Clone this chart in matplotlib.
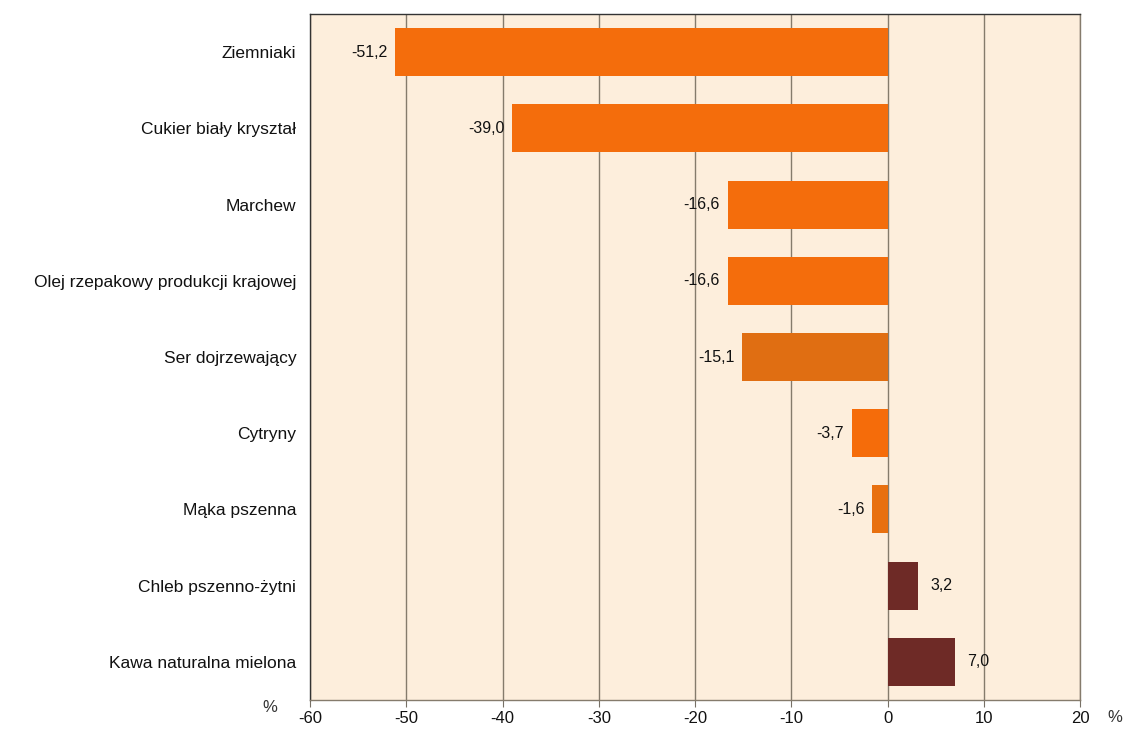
import matplotlib.pyplot as plt

categories = ["Ziemniaki", "Cukier biały kryształ", "Marchew",
              "Olej rzepakowy produkcji krajowej", "Ser dojrzewający",
              "Cytryny", "Mąka pszenna", "Chleb pszenno-żytni",
              "Kawa naturalna mielona"]
values = [-51.2, -39.0, -16.6, -16.6, -15.1, -3.7, -1.6, 3.2, 7.0]
colors = ["#F46D0C", "#F46D0C", "#F46D0C", "#F46D0C", "#E06E12",
          "#F56C0A", "#E8700F", "#6E2A26", "#6E2A26"]

plt.rcParams['font.family'] = ['Liberation Sans', 'DejaVu Sans']
plt.rcParams['axes.unicode_minus'] = False

fig = plt.figure(figsize=(11.27, 7.31), dpi=100)
ax = fig.add_axes([0.2751, 0.0424, 0.6832, 0.9384])
ax.set_facecolor("#FDEEDC")

y = list(range(len(categories)))
ax.barh(y, values, height=0.63, color=colors, zorder=3)

for yi, v in zip(y, values):
    txt = f"{v:.1f}".replace(".", ",")
    if v < 0:
        ax.text(v - 0.8, yi, txt, ha="right", va="center", fontsize=11.5, color="#111111", zorder=4)
    else:
        ax.text(v + 1.3, yi, txt, ha="left", va="center", fontsize=11.5, color="#111111", zorder=4)

ax.set_xlim(-60, 20)
ax.set_ylim(len(categories) - 0.5, -0.5)
ax.set_xticks(range(-60, 21, 10))
ax.set_yticks(y)
ax.set_yticklabels(categories)
ax.tick_params(axis="y", length=0, pad=10, labelsize=12.5, labelcolor="#111111")
ax.tick_params(axis="x", length=5, direction="out", color="#777066", labelsize=12, pad=3,
               labelcolor="#111111")
ax.grid(axis="x", color="#857B6C", linewidth=1, zorder=1)
for s in ax.spines.values():
    s.set_color("#333333")
    s.set_linewidth(1)
ax.spines["bottom"].set_color("#857B6C")
ax.spines["right"].set_color("#857B6C")

fig.text(270 / 1127, 1 - 708 / 731, "%", fontsize=12, ha="center", va="center", color="#333333")
fig.text(1115 / 1127, 1 - 718 / 731, "%", fontsize=12, ha="center", va="center", color="#333333")

fig.savefig("out.png", dpi=100)
